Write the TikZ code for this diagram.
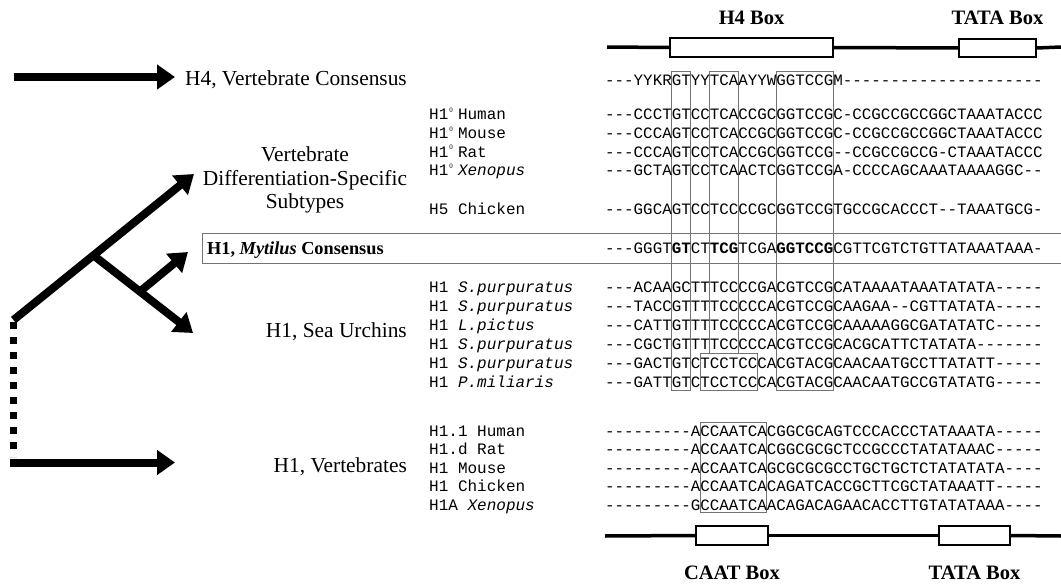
\documentclass[tikz,border=0pt]{standalone}
\usepackage{fontspec}
\setmainfont{Liberation Serif}
\setmonofont{Liberation Mono}
\usetikzlibrary{arrows.meta}

% superscript zero used in the H1 labels, one monospace cell wide
\newcommand{\hzero}{\makebox[0.6em][l]{\hspace{1pt}\raisebox{0.45em}{\rmfamily\fontsize{7}{7}\selectfont 0}}}

\begin{document}
\begin{tikzpicture}[x=1pt,y=-1pt,
  seq/.style={anchor=base west, inner sep=0pt, font=\ttfamily\fontsize{15.85}{18}\selectfont},
  lab/.style={anchor=base west, inner sep=0pt, font=\ttfamily\fontsize{16}{18}\selectfont},
  cls/.style={inner sep=0pt, font=\fontsize{21.4}{25}\selectfont},
  boxlab/.style={anchor=base, inner sep=0pt, font=\bfseries\fontsize{20.5}{24}\selectfont},
  tree/.style={line width=8pt, -{Triangle[length=18pt,width=24pt]}},
  colbox/.style={draw=black!55, line width=0.6pt},
  gene/.style={line width=3.5pt},
  motif/.style={draw, line width=1.8pt, fill=white, inner sep=0pt},
]
\useasboundingbox (0,0) rectangle (1061,586);

% ---------- promoter sketches with motif boxes ----------
\coordinate (g1s) at (607,47);
\coordinate (g1e) at (1061,47);
\node[motif, minimum width=163pt, minimum height=19pt] (bh4) at (751.5,47.5) {};
\node[motif, minimum width=77pt, minimum height=18pt] (btata1) at (997.5,48) {};
\draw[gene] (g1s) -- (bh4.west);
\draw[gene] (bh4.east) -- (btata1.west);
\draw[gene] (btata1.east) -- (g1e);
\node[boxlab] (lh4) at (751.5,25) {H4 Box};
\node[boxlab] (ltata1) at (997.5,25) {TATA Box};

\coordinate (g2s) at (605,536);
\coordinate (g2e) at (1061,536);
\node[motif, minimum width=72pt, minimum height=19pt] (bcaat) at (732,535.5) {};
\node[motif, minimum width=71pt, minimum height=19pt] (btata2) at (974.5,535.5) {};
\draw[gene] (g2s) -- (bcaat.west);
\draw[gene] (bcaat.east) -- (btata2.west);
\draw[gene] (btata2.east) -- (g2e);
\node[boxlab] (lcaat) at (732,579.5) {CAAT Box};
\node[boxlab] (ltata2) at (974.5,579.5) {TATA Box};

% ---------- conserved columns of the alignment ----------
\draw[colbox] (671.6,71) rectangle (690.6,390);
\draw[colbox] (709.6,71) rectangle (738.1,353);
\draw[colbox] (776.2,71) rectangle (833.2,390);
\draw[colbox] (700.1,353) rectangle (757.2,390);
\draw[colbox] (700.1,422.5) rectangle (766.7,512.5);

% frame of the Mytilus consensus line
\draw[colbox] (1061,233) -- (202,233) -- (202,263) -- (1061,263);

% ---------- tree ----------
\coordinate (h4s) at (14,77);
\coordinate (h4t) at (175,77);
\coordinate (root) at (13.5,320);
\coordinate (apex) at (93,255);
\coordinate (tipV) at (194,174);
\coordinate (tipS) at (193,333);
\coordinate (mbase) at (140,291.5);
\coordinate (tipM) at (188,252);
\coordinate (dtop) at (13.3,322);
\coordinate (dbot) at (13.3,457);
\coordinate (bl) at (10,462.5);
\coordinate (tipB) at (175,462.5);

\draw[tree] (h4s) -- (h4t);
\draw[tree] (root) -- (tipV);
\draw[tree] (apex) -- (tipS);
\draw[tree] (mbase) -- (tipM);
\draw[line width=7pt, dash pattern=on 7pt off 8pt] (dtop) -- (dbot);
\draw[tree] (bl) -- (tipB);

% ---------- group names ----------
\node[cls, anchor=base east] (h4lab) at (407,85) {H4, Vertebrate Consensus};
\node[cls, anchor=base] (vds1) at (305,161.5) {Vertebrate};
\node[cls, anchor=base] (vds2) at (305,185) {Differentiation-Specific};
\node[cls, anchor=base] (vds3) at (305,208.5) {Subtypes};
\node[anchor=base west, inner sep=0pt, font=\bfseries\fontsize{18.3}{22}\selectfont] (mytlab) at (207,254.5) {H1, \textit{Mytilus} Consensus};
\node[cls, anchor=base east] (urchlab) at (407,337.5) {H1, Sea Urchins};
\node[cls, anchor=base east] (vertlab) at (407,472.5) {H1, Vertebrates};

% ---------- sequence names ----------
\node[lab] (n1) at (429,119.7) {H1\hzero Human};
\node[lab] (n2) at (429,138.4) {H1\hzero Mouse};
\node[lab] (n3) at (429,157.1) {H1\hzero Rat};
\node[lab] (n4) at (429,175.8) {H1\hzero\textit{Xenopus}};
\node[lab] (n5) at (429,214.2) {H5 Chicken};

\node[lab] (u1) at (429,292.2) {H1 \textit{S.purpuratus}};
\node[lab] (u2) at (429,311.2) {H1 \textit{S.purpuratus}};
\node[lab] (u3) at (429,330.2) {H1 \textit{L.pictus}};
\node[lab] (u4) at (429,349.2) {H1 \textit{S.purpuratus}};
\node[lab] (u5) at (429,368.2) {H1 \textit{S.purpuratus}};
\node[lab] (u6) at (429,387.2) {H1 \textit{P.miliaris}};

\node[lab] (v1) at (429,436.2) {H1.1 Human};
\node[lab] (v2) at (429,454.7) {H1.d Rat};
\node[lab] (v3) at (429,473.2) {H1 Mouse};
\node[lab] (v4) at (429,491.7) {H1 Chicken};
\node[lab] (v5) at (429,510.2) {H1A \textit{Xenopus}};

% ---------- sequences ----------
\node[seq] (s0) at (605,85.2) {---YYKRGTYYTCAAYYWGGTCCGM---------------------};
\node[seq] (s1) at (605,119.7) {---CCCTGTCCTCACCGCGGTCCGC-CCGCCGCCGGCTAAATACCC};
\node[seq] (s2) at (605,138.4) {---CCCAGTCCTCACCGCGGTCCGC-CCGCCGCCGGCTAAATACCC};
\node[seq] (s3) at (605,157.1) {---CCCAGTCCTCACCGCGGTCCG--CCGCCGCCG-CTAAATACCC};
\node[seq] (s4) at (605,175.8) {---GCTAGTCCTCAACTCGGTCCGA-CCCCAGCAAATAAAAGGC--};
\node[seq] (s5) at (605,214.2) {---GGCAGTCCTCCCCGCGGTCCGTGCCGCACCCT--TAAATGCG-};

\node[seq] (sm) at (605,253.5) {---GGGT\textbf{GT}CT\textbf{TCG}TCGA\textbf{GGTCCG}CGTTCGTCTGTTATAAATAAA-};

\node[seq] (r1) at (605,292.2) {---ACAAGCTTTCCCCGACGTCCGCATAAAATAAATATATA-----};
\node[seq] (r2) at (605,311.2) {---TACCGTTTTCCCCCACGTCCGCAAGAA--CGTTATATA-----};
\node[seq] (r3) at (605,330.2) {---CATTGTTTTCCCCCACGTCCGCAAAAAGGCGATATATC-----};
\node[seq] (r4) at (605,349.2) {---CGCTGTTTTCCCCCACGTCCGCACGCATTCTATATA-------};
\node[seq] (r5) at (605,368.2) {---GACTGTCTCCTCCCACGTACGCAACAATGCCTTATATT-----};
\node[seq] (r6) at (605,387.2) {---GATTGTCTCCTCCCACGTACGCAACAATGCCGTATATG-----};

\node[seq] (t1) at (605,436.2) {---------ACCAATCACGGCGCAGTCCCACCCTATAAATA-----};
\node[seq] (t2) at (605,454.7) {---------ACCAATCACGGCGCGCTCCGCCCTATATAAAC-----};
\node[seq] (t3) at (605,473.2) {---------ACCAATCAGCGCGCGCCTGCTGCTCTATATATA----};
\node[seq] (t4) at (605,491.7) {---------ACCAATCACAGATCACCGCTTCGCTATAAATT-----};
\node[seq] (t5) at (605,510.2) {---------GCCAATCAACAGACAGAACACCTTGTATATAAA----};
\end{tikzpicture}
\end{document}
